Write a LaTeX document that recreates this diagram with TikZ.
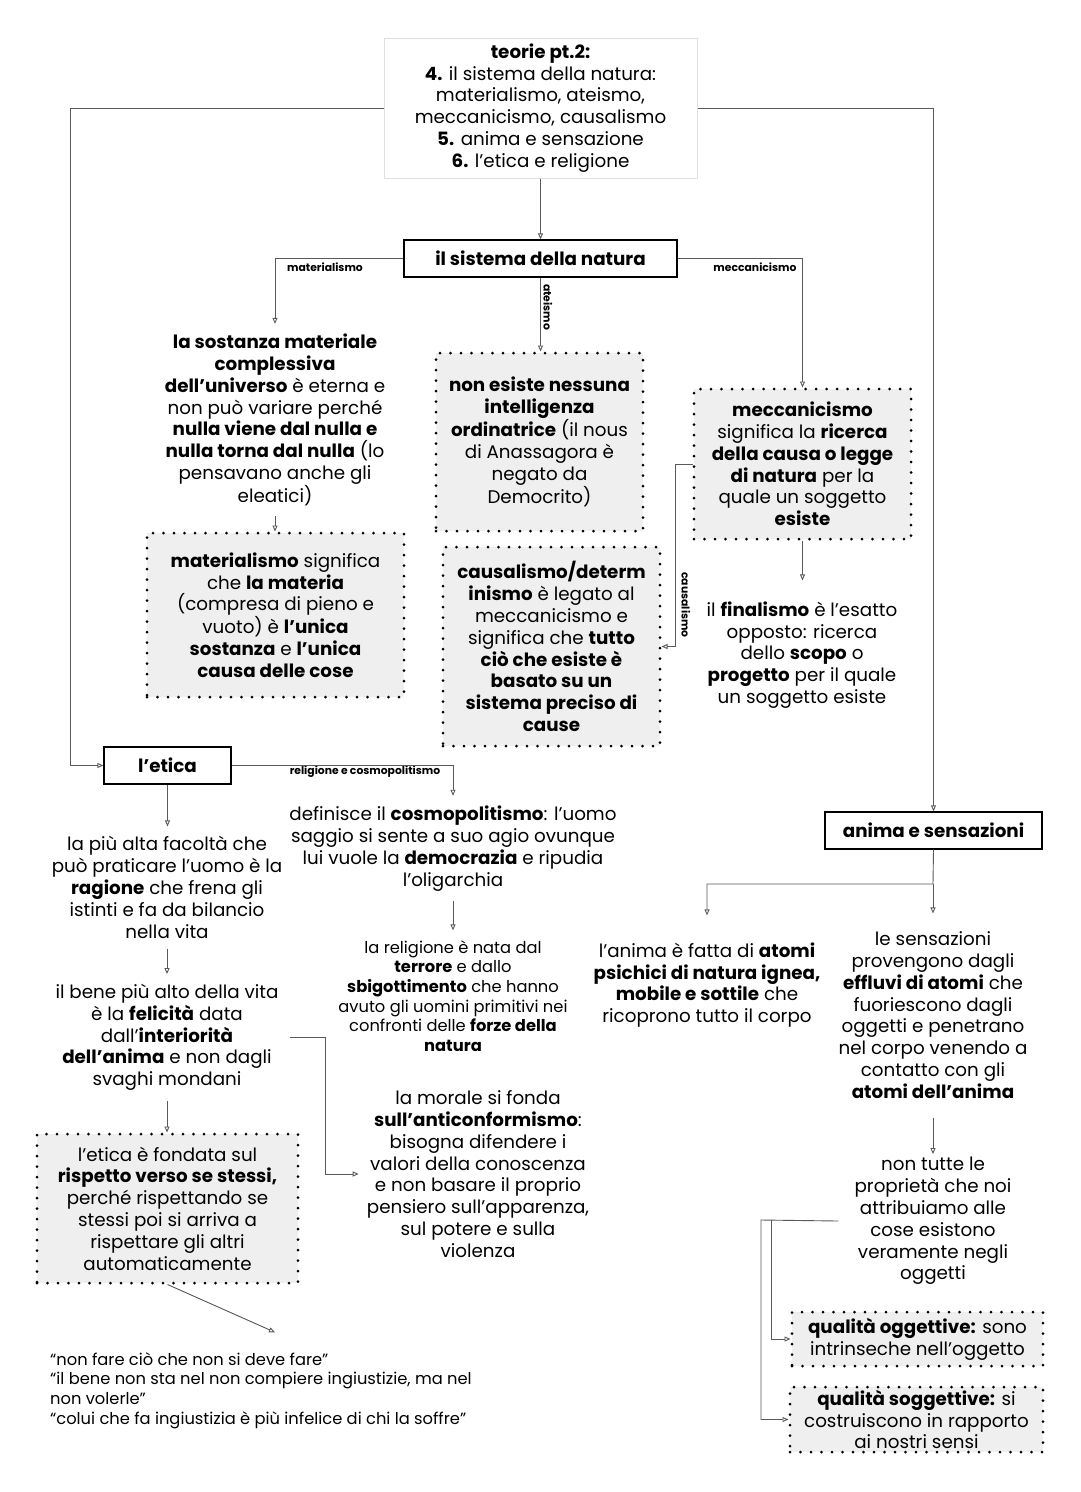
\documentclass[tikz,border=0pt]{standalone}
\usepackage{fontspec}
\setmainfont{Poppins}
\usetikzlibrary{arrows.meta,
	positioning,
	calc}
\definecolor{boxgray}{HTML}{EFEFEF}
\definecolor{linegray}{HTML}{5A5A5A}

\begin{document}
\begin{tikzpicture}[x=1pt,y=-1pt,
	link/.style={draw=linegray,line width=0.9pt,-{Triangle[open,length=6pt,width=5pt]}},
	txt/.style={align=center,font=\fontsize{18.3}{21.8}\selectfont,inner sep=10pt},
	smalltxt/.style={align=center,font=\fontsize{16.3}{19.6}\selectfont,inner sep=10pt},
	tag/.style={font=\fontsize{10.8}{12}\selectfont\bfseries,inner sep=0pt},
	titlebox/.style={draw=black,line width=1.3pt,font=\fontsize{18.3}{20}\selectfont\bfseries,minimum height=37pt,inner sep=0pt},
	dotbox/.style={fill=boxgray,draw=black,line width=3pt,dash pattern=on 0pt off 10.5pt,line cap=round,
		align=center,font=\fontsize{18.3}{21.8}\selectfont,inner sep=0pt}]
	\fill[white] (0,0) rectangle (1080,1492);
	\useasboundingbox (0,0) rectangle (1080,1492);

	\node[draw=gray!25,line width=1pt,fill=white,align=center,font=\fontsize{18.3}{21.8}\selectfont,
		minimum width=313pt,minimum height=140pt,inner sep=0pt] (teorie) at (540.5,108)
		{\textbf{teorie pt.2:}\\ \textbf{4.} il sistema della natura:\\ materialismo, ateismo,\\ meccanicismo, causalismo\\ \textbf{5.} anima e sensazione\\ \textbf{6.} l’etica e religione};

	\node[titlebox,minimum width=273pt] (natura) at (540.5,258.5) {il sistema della natura};
	\node[titlebox,minimum width=127pt] (etica) at (167.5,765.5) {l’etica};
	\node[titlebox,minimum width=217pt] (anima) at (933.5,830.5) {anima e sensazioni};

	\node[txt] (sostanza) at (275,420)
		{\textbf{la sostanza materiale}\\ \textbf{complessiva}\\ \textbf{dell’universo} è eterna e\\ non può variare perché\\ \textbf{nulla viene dal nulla e}\\ \textbf{nulla torna dal nulla} (lo\\ pensavano anche gli\\ eleatici)};
	\node[dotbox,minimum width=257pt,minimum height=164pt] (matbox) at (275.5,615)
		{\textbf{materialismo} significa\\ che \textbf{la materia}\\ (compresa di pieno e\\ vuoto) è \textbf{l’unica}\\ \textbf{sostanza} e \textbf{l’unica}\\ \textbf{causa delle cose}};
	\node[dotbox,minimum width=207pt,minimum height=178pt] (ateobox) at (539.5,442)
		{\textbf{non esiste nessuna}\\ \textbf{intelligenza}\\ \textbf{ordinatrice} (il nous\\ di Anassagora è\\ negato da\\ Democrito)};
	\node[dotbox,minimum width=217pt,minimum height=199pt] (causbox) at (551.5,646.5)
		{\textbf{causalismo/determ}\\ \textbf{inismo} è legato al\\ meccanicismo e\\ significa che \textbf{tutto}\\ \textbf{ciò che esiste è}\\ \textbf{basato su un}\\ \textbf{sistema preciso di}\\ \textbf{cause}};
	\node[dotbox,minimum width=217pt,minimum height=150pt] (meccbox) at (802.5,464)
		{\textbf{meccanicismo}\\ significa la \textbf{ricerca}\\ \textbf{della causa o legge}\\ \textbf{di natura} per la\\ quale un soggetto\\ \textbf{esiste}};
	\node[txt] (finalismo) at (802,655)
		{il \textbf{finalismo} è l’esatto\\ opposto: ricerca\\ dello \textbf{scopo} o\\ \textbf{progetto} per il quale\\ un soggetto esiste};

	\node[txt] (ragione) at (167,887.5)
		{la più alta facoltà che\\ può praticare l’uomo è la\\ \textbf{ragione} che frena gli\\ istinti e fa da bilancio\\ nella vita};
	\node[txt] (bene) at (167,1037.5)
		{il bene più alto della vita\\ è la \textbf{felicità} data\\ dall’\textbf{interiorità}\\ \textbf{dell’anima} e non dagli\\ svaghi mondani};
	\node[dotbox,minimum width=261pt,minimum height=149pt] (eticabox) at (167.5,1208.5)
		{l’etica è fondata sul\\ \textbf{rispetto verso se stessi,}\\ perché rispettando se\\ stessi poi si arriva a\\ rispettare gli altri\\ automaticamente};
	\node[smalltxt,align=left,inner sep=0pt,anchor=west] (quotes) at (50,1390.5)
		{“non fare ciò che non si deve fare”\\ “il bene non sta nel non compiere ingiustizie, ma nel\\ non volerle”\\ “colui che fa ingiustizia è più infelice di chi la soffre”};

	\node[txt] (cosmo) at (453,848.5)
		{definisce il \textbf{cosmopolitismo}: l’uomo\\ saggio si sente a suo agio ovunque\\ lui vuole la \textbf{democrazia} e ripudia\\ l’oligarchia};
	\node[smalltxt] (religione) at (453,996)
		{la religione è nata dal\\ \textbf{terrore} e dallo\\ \textbf{sbigottimento} che hanno\\ avuto gli uomini primitivi nei\\ confronti delle \textbf{forze della}\\ \textbf{natura}};
	\node[txt] (morale) at (478,1174)
		{la morale si fonda\\ \textbf{sull’anticonformismo}:\\ bisogna difendere i\\ valori della conoscenza\\ e non basare il proprio\\ pensiero sull’apparenza,\\ sul potere e sulla\\ violenza};

	\node[txt] (animatxt) at (707,985)
		{l’anima è fatta di \textbf{atomi}\\ \textbf{psichici di natura ignea,}\\ \textbf{mobile e sottile} che\\ ricoprono tutto il corpo};
	\node[txt] (sensazioni) at (933,1015)
		{le sensazioni\\ provengono dagli\\ \textbf{effluvi di atomi} che\\ fuoriescono dagli\\ oggetti e penetrano\\ nel corpo venendo a\\ contatto con gli\\ \textbf{atomi dell’anima}};
	\node[txt] (nontutte) at (933,1221)
		{non tutte le\\ proprietà che noi\\ attribuiamo alle\\ cose esistono\\ veramente negli\\ oggetti};
	\node[dotbox,minimum width=251pt,minimum height=54pt] (oggbox) at (917.5,1339)
		{\textbf{qualità oggettive:} sono\\ intrinseche nell’oggetto};
	\node[dotbox,minimum width=253pt,minimum height=65pt] (sogbox) at (916.5,1419.5)
		{\textbf{qualità soggettive:} si\\ costruiscono in rapporto\\ ai nostri sensi};

	\node[tag] (lmat) at (325,267) {materialismo};
	\node[tag] (lmecc) at (755,267) {meccanicismo};
	\node[tag,rotate=-90] (late) at (548,307) {ateismo};
	\node[tag,rotate=-90] (lcaus) at (686,605) {causalismo};
	\node[tag] (lrel) at (365,772) {religione e cosmopolitismo};

	\foreach \a/\b in {teorie/natura,natura/ateobox,sostanza/matbox,etica/ragione,
		ragione/bene,bene/eticabox,cosmo/religione}
		\draw[link] (\a.south) -- (\a.south |- \b.north);
	\draw[link] (teorie.west) -- (70,108) |- (etica.west);
	\draw[link] (teorie.east) -| (anima.north);
	\draw[link] (natura.west) -| (sostanza.north);
	\draw[link] (natura.east) -| (meccbox.north);
	\draw[link] (meccbox.west) -- ++(-17,0) |- (causbox.east);
	\draw[link] (meccbox.south) -- ([yshift=11pt]meccbox.south |- finalismo.north);
	\draw[link] (etica.east) -| (cosmo.north);
	\draw[link] ([xshift=1pt]bene.east) -- (325,1037.5) |- ([xshift=2pt]morale.west);
	\draw[link] (eticabox.south) -- ([xshift=14pt,yshift=20pt]quotes.north);
	\coordinate (asplit) at (933,884);
	\draw[link] (anima.south) -- (asplit) -| ([yshift=17pt]animatxt.north);
	\draw[link] (asplit) -- ([yshift=8pt]asplit |- sensazioni.north);
	\draw[link] ([yshift=-9pt]sensazioni.south) -- ([yshift=-7pt]sensazioni.south |- nontutte.north);
	\coordinate (qsplit) at (771,1220);
	\draw[link] ([xshift=-6pt]nontutte.west) -- (761,1220) |- (sogbox.west);
	\draw[link] (qsplit) |- (oggbox.west);
\end{tikzpicture}
\end{document}
